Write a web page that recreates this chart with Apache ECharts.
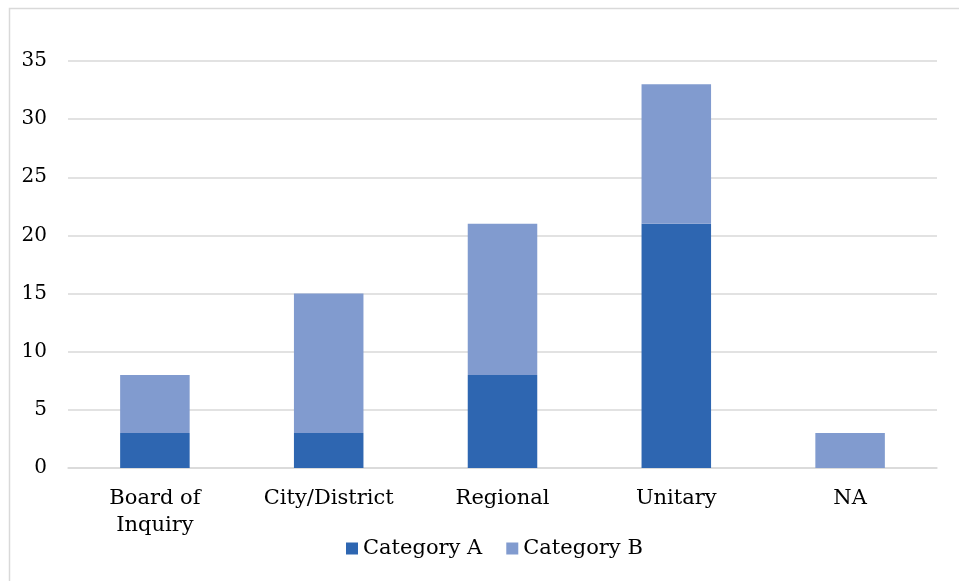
<!DOCTYPE html>
<html>
<head>
<meta charset="utf-8">
<script src="https://cdn.jsdelivr.net/npm/echarts@6/dist/echarts.min.js"></script>
<style>html,body{margin:0;padding:0;background:#fff;}#c{width:959px;height:581px;}</style>
</head>
<body>
<div id="c"></div>
<script>
const categories = ['Board of Inquiry', 'City/District', 'Regional', 'Unitary', 'NA'];
const categoryA = [3, 3, 8, 21, 0];
const categoryB = [5, 12, 13, 12, 3];
const seriesNames = ['Category A', 'Category B'];

const font = "Georgia, 'DejaVu Serif', serif";
const chart = echarts.init(document.getElementById('c'), null, {renderer: 'canvas'});
chart.setOption({
  animation: false,
  backgroundColor: '#fff',
  graphic: [{
    type: 'rect', left: 7, top: 6, shape: {width: 970, height: 600},
    style: {fill: 'none', stroke: '#d9d9d9', lineWidth: 1.5}, silent: true
  }],
  grid: {left: 68, right: 22, top: 61, bottom: 113, containLabel: false},
  legend: {
    data: seriesNames, left: 341, top: 533,
    itemWidth: 12, itemHeight: 12, itemGap: 24,
    icon: 'rect',
    textStyle: {fontFamily: font, fontSize: 21, color: '#000'}
  },
  xAxis: {
    type: 'category', data: categories,
    axisLine: {show: true, lineStyle: {color: '#d9d9d9', width: 1.5}},
    axisTick: {show: false},
    axisLabel: {
      interval: 0, margin: 17, color: '#000', fontFamily: font, fontSize: 21, lineHeight: 27,
      formatter: v => v.replace('of ', 'of\n')
    }
  },
  yAxis: {
    type: 'value', min: 0, max: 35, interval: 5,
    axisLine: {show: false}, axisTick: {show: false},
    splitLine: {lineStyle: {color: '#d9d9d9', width: 1.5}},
    axisLabel: {margin: 21, color: '#000', fontFamily: font, fontSize: 20}
  },
  series: [
    {name: seriesNames[0], type: 'bar', stack: 't', data: categoryA, barWidth: '40%', itemStyle: {color: '#2E66B1'}},
    {name: seriesNames[1], type: 'bar', stack: 't', data: categoryB, barWidth: '40%', itemStyle: {color: '#819BCF'}}
  ]
});
</script>
</body>
</html>
